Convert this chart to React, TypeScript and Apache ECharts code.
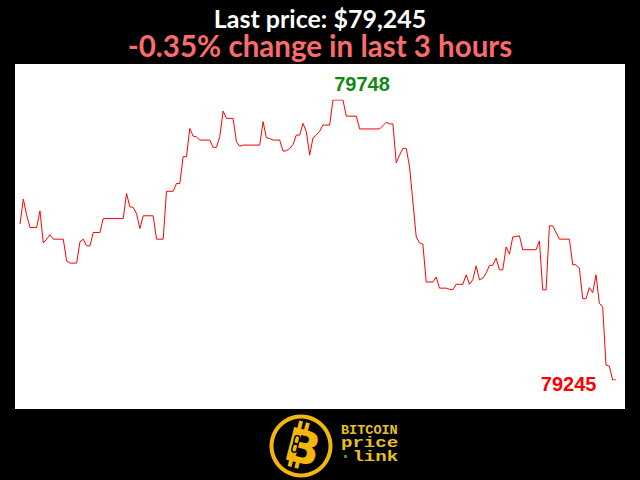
import React, { useEffect, useRef } from "react";
import * as echarts from "echarts";

const titleText = "Last price: $79,245";
const subtitleText = "-0.35% change in last 3 hours";

const minutes = [
  0, 1, 2, 3, 5, 6, 7, 8, 9, 10,
  13, 14, 15, 17, 18, 19, 20, 21, 22, 24,
  25, 31, 32, 33, 34, 35, 36, 37, 40, 41,
  43, 44, 46, 47, 48, 49, 50, 51, 52, 53,
  54, 57, 58, 59, 60, 61, 62, 64, 65, 66,
  67, 72, 73, 74, 75, 76, 78, 79, 80, 81,
  82, 83, 84, 85, 86, 87, 88, 89, 90, 91,
  93, 94, 97, 98, 101, 102, 108, 110, 111, 112,
  113, 114, 115, 116, 117, 119, 120, 121, 122, 124,
  125, 126, 128, 129, 130, 131, 133, 134, 135, 136,
  137, 138, 139, 140, 141, 142, 143, 144, 145, 146,
  147, 148, 150, 151, 155, 156, 157, 158, 159, 160,
  162, 165, 166, 167, 168, 169, 170, 171, 172, 173,
  174, 175, 176, 177, 178, 179,
];

const prices = [
  79525, 79570, 79541, 79519, 79519, 79549, 79491, 79498, 79506, 79498,
  79498, 79459, 79455, 79455, 79493, 79498, 79486, 79486, 79510, 79510,
  79535, 79535, 79580, 79556, 79555, 79544, 79517, 79540, 79540, 79498,
  79498, 79584, 79584, 79598, 79598, 79646, 79646, 79697, 79683, 79682,
  79676, 79676, 79663, 79663, 79682, 79728, 79715, 79715, 79673, 79665,
  79667, 79667, 79709, 79680, 79679, 79676, 79676, 79656, 79657, 79661,
  79668, 79685, 79685, 79706, 79691, 79649, 79680, 79685, 79692, 79703,
  79703, 79748, 79748, 79719, 79719, 79696, 79696, 79708, 79705, 79705,
  79635, 79649, 79661, 79661, 79628, 79502, 79491, 79489, 79421, 79421,
  79430, 79410, 79410, 79408, 79407, 79417, 79417, 79434, 79417, 79425,
  79450, 79425, 79428, 79437, 79451, 79451, 79464, 79443, 79443, 79484,
  79471, 79502, 79504, 79479, 79479, 79495, 79407, 79407, 79522, 79522,
  79498, 79498, 79452, 79452, 79446, 79391, 79391, 79411, 79402, 79434,
  79383, 79376, 79272, 79270, 79245, 79245,
];

const logoWords = ["BITCOIN", "price", "link"];

const YELLOW = "#f3b70c";
const TEXT_YELLOW = "#e9c11f";

export default function App() {
  const ref = useRef<HTMLDivElement>(null);

  useEffect(() => {
    if (!ref.current) return;
    const chart = echarts.init(ref.current, null, { renderer: "svg" });

    const data = minutes.map((m, i) => [m, prices[i]]);
    const maxP = Math.max(...prices);
    const minP = Math.min(...prices);
    const maxIdx = prices.indexOf(maxP);
    const minIdx = prices.lastIndexOf(minP) - 1;

    const word = (text: string, x: number, y: number, size: number, sx: number) => ({
      type: "text",
      x,
      y,
      scaleX: sx,
      style: {
        text,
        fill: TEXT_YELLOW,
        font: `bold ${size}px 'Liberation Mono'`,
        align: "left",
        verticalAlign: "top",
      },
    });

    chart.setOption({
      animation: false,
      backgroundColor: "#000000",
      title: [
        {
          text: titleText,
          left: "center",
          top: 5.5,
          padding: 0,
          textStyle: {
            color: "#ffffff",
            fontFamily: "Lato",
            fontWeight: "bold",
            fontSize: 25,
            lineHeight: 24,
          },
        },
        {
          text: subtitleText,
          left: "center",
          top: 31.5,
          padding: 0,
          textStyle: {
            color: "#fb6b6b",
            fontFamily: "Lato",
            fontWeight: "bold",
            fontSize: 29.5,
            lineHeight: 28,
          },
        },
      ],
      graphic: [
        {
          type: "rect",
          z: 0,
          shape: { x: 15, y: 64, width: 610, height: 345 },
          style: { fill: "#ffffff" },
          silent: true,
        },
        {
          type: "ring",
          shape: { cx: 301, cy: 446, r: 31.5, r0: 27.5 },
          style: { fill: YELLOW },
        },
        {
          type: "group",
          x: 302,
          y: 446,
          rotation: -0.25,
          children: [
            { type: "rect", shape: { x: -9, y: -24, width: 4, height: 8 }, style: { fill: YELLOW } },
            { type: "rect", shape: { x: -2, y: -24, width: 4, height: 8 }, style: { fill: YELLOW } },
            { type: "rect", shape: { x: -9, y: 15, width: 4, height: 8 }, style: { fill: YELLOW } },
            { type: "rect", shape: { x: -2, y: 15, width: 4, height: 8 }, style: { fill: YELLOW } },
            {
              type: "text",
              x: 1,
              y: 1,
              style: {
                text: "B",
                fill: YELLOW,
                font: "900 46px 'DejaVu Sans'",
                align: "center",
                verticalAlign: "middle",
              },
            },
            {
              type: "rect",
              shape: { x: -9, y: -9, width: 5, height: 9, r: 2.5 },
              style: { fill: "none", stroke: "#000", lineWidth: 1.5 },
            },
            {
              type: "rect",
              shape: { x: -9, y: -1, width: 5, height: 9, r: 2.5 },
              style: { fill: "none", stroke: "#000", lineWidth: 1.5 },
            },
          ],
        },
        word(logoWords[0], 341, 423, 13.5, 1),
        word(logoWords[1], 341, 436, 14, 1.36),
        word(logoWords[2], 352.4, 450, 14, 1.36),
        {
          type: "rect",
          shape: { x: 344, y: 455, width: 3, height: 3 },
          style: { fill: "#1fa01f" },
        },
      ],
      grid: { left: 20, right: 24, top: 100, bottom: 100 },
      xAxis: { type: "value", min: 0, max: 179, show: false },
      yAxis: { type: "value", min: minP, max: maxP, show: false },
      series: [
        {
          type: "line",
          z: 3,
          data,
          showSymbol: false,
          symbol: "none",
          lineStyle: { color: "#ff0000", width: 1 },
          markPoint: {
            symbol: "circle",
            symbolSize: 1,
            itemStyle: { color: "rgba(0,0,0,0)" },
            data: [
              {
                coord: [minutes[maxIdx], maxP],
                label: {
                  show: true,
                  position: "inside",
                  offset: [29, -16],
                  formatter: String(maxP),
                  color: "#118811",
                  fontFamily: "Liberation Sans",
                  fontWeight: "bold",
                  fontSize: 20,
                },
              },
              {
                coord: [minutes[minIdx], minP],
                label: {
                  show: true,
                  position: "inside",
                  offset: [-44, 4],
                  formatter: String(minP),
                  color: "#ff0000",
                  fontFamily: "Liberation Sans",
                  fontWeight: "bold",
                  fontSize: 20,
                },
              },
            ],
          },
        },
      ],
    });

    return () => chart.dispose();
  }, []);

  return <div ref={ref} style={{ width: 640, height: 480, position: "absolute", left: 0, top: 0 }} />;
}
